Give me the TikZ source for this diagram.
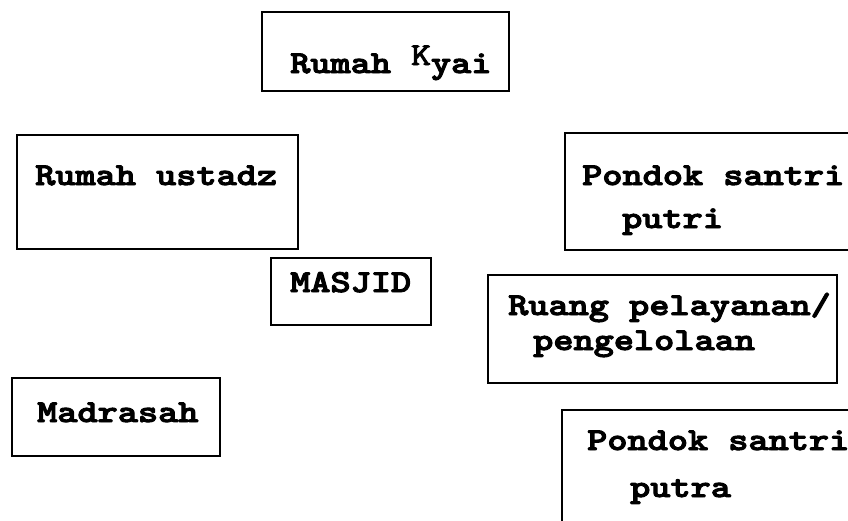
\documentclass[tikz,border=0pt]{standalone}
\usepackage{fontspec}
\begin{document}
\begin{tikzpicture}[x=1pt,y=-1pt,
  box/.style={draw=black, line width=2.2pt},
  lbl/.style={inner sep=0pt, anchor=base west, font=\fontsize{32}{32}\selectfont\ttfamily\bfseries}]
\newcommand{\tw}[1]{\scalebox{1.2}[1]{\special{pdf:literal direct q 2 Tr 0.9 w}#1\special{pdf:literal direct Q}}}
\useasboundingbox (0,0) rectangle (848,520);
\fill[white] (0,0) rectangle (848,520);
\clip (0,0) rectangle (848,520);
% boxes
\draw[box] (262,12) rectangle (509,91);
\draw[box] (17,135) rectangle (298,249);
\draw[box] (565,133) rectangle (870,250);
\draw[box] (271,258) rectangle (431,325);
\draw[box] (488,275) rectangle (837,383);
\draw[box] (12,378) rectangle (220,456);
\draw[box] (562,410) rectangle (870,560);
% labels
\node[lbl] (kyai) at (290,73) {\tw{Rumah \raisebox{8pt}{\mdseries K}yai}};
\node[lbl] (ustadz) at (35,185) {\tw{Rumah ustadz}};
\node[lbl] (putri1) at (582,185) {\tw{Pondok santri}};
\node[lbl] (putri2) at (622,228) {\tw{putri}};
\node[lbl] (masjid) at (290,292) {\tw{MASJID}};
\node[lbl] (ruang1) at (508,315) {\tw{Ruang pelayanan/}};
\node[lbl] (ruang2) at (533,350) {\tw{pengelolaan}};
\node[lbl] (madrasah) at (37,422) {\tw{Madrasah}};
\node[lbl] (putra1) at (587,450) {\tw{Pondok santri}};
\node[lbl] (putra2) at (630,497) {\tw{putra}};
\end{tikzpicture}
\end{document}
